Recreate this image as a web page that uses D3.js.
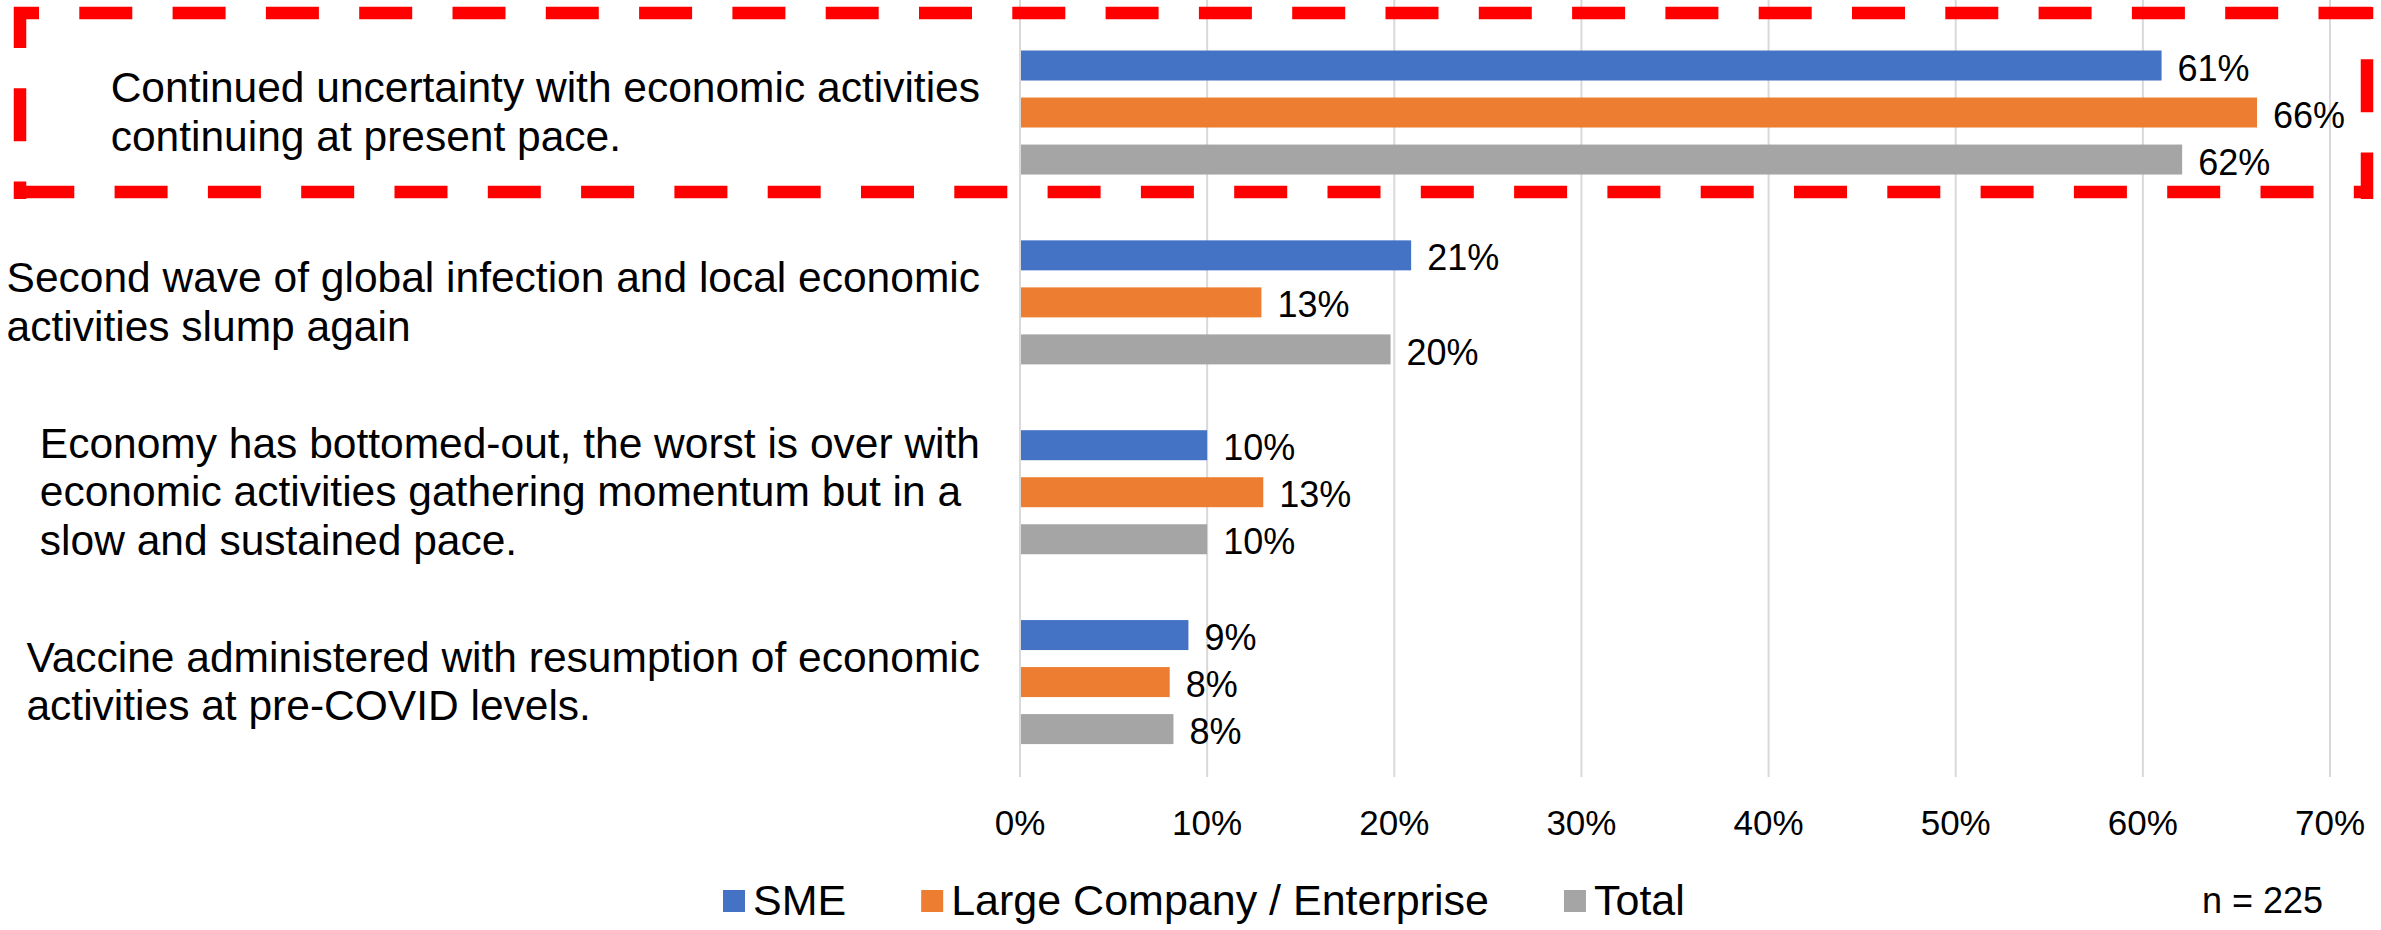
<!DOCTYPE html>
<head>
    <title>Economic outlook</title>
    <script src="https://d3js.org/d3.v7.min.js"></script>
</head>
<style>
body {
  margin: 0;
  background: #fff;
  font-family: "Liberation Sans", Arial, sans-serif;
}
</style>
<body>
    <svg></svg>
</body>

<script>

    // Data
    var categories = [
        "Continued uncertainty with economic activities\ncontinuing at present pace.",
        "Second wave of global infection and local economic\nactivities slump again",
        "Economy has bottomed-out, the worst is over with\neconomic activities gathering momentum but in a\nslow and sustained pace.",
        "Vaccine administered with resumption of economic\nactivities at pre-COVID levels."
    ];
    var seriesNames = ["SME", "Large Company / Enterprise", "Total"];
    var smeValues = [0.610, 0.209, 0.100, 0.090];
    var largeValues = [0.661, 0.129, 0.130, 0.080];
    var totalValues = [0.621, 0.198, 0.100, 0.082];
    var tickValues = [0, 0.1, 0.2, 0.3, 0.4, 0.5, 0.6, 0.7];
    var sampleNote = "n = 225";

    var colors = ["#4472C4", "#ED7D31", "#A5A5A5"];

    // Variables
    var width = 2381;
    var height = 930;
    var seriesValues = [smeValues, largeValues, totalValues];

    var svg = d3.select('svg')
        .attr('width', width)
        .attr('height', height);

    var x = d3.scaleLinear()
        .domain([0, 0.7])
        .range([1020, 2330]);

    var y0 = d3.scaleBand()
        .domain(d3.range(categories.length))
        .range([17.6, 777]);

    var y1 = d3.scaleBand()
        .domain(d3.range(seriesNames.length))
        .range([0, y0.bandwidth()])
        .paddingInner(0.362)
        .paddingOuter(0.7);

    // Gridlines
    svg.append('g')
        .selectAll('line')
        .data(tickValues)
        .enter().append('line')
        .attr('x1', function (d) { return x(d) })
        .attr('x2', function (d) { return x(d) })
        .attr('y1', 0)
        .attr('y2', 777)
        .attr('stroke', '#D9D9D9')
        .attr('stroke-width', 2);

    // Tick labels
    svg.append('g')
        .selectAll('text')
        .data(tickValues)
        .enter().append('text')
        .attr('x', function (d) { return x(d) })
        .attr('y', 835)
        .attr('text-anchor', 'middle')
        .style('font-size', '35px')
        .text(d3.format('.0%'));

    // Bars
    var rows = [];
    categories.forEach(function (c, i) {
        seriesValues.forEach(function (vals, s) {
            rows.push({ cat: i, series: s, value: vals[i] });
        });
    });

    svg.append('g')
        .selectAll('rect')
        .data(rows)
        .enter().append('rect')
        .attr('x', x(0) + 1)
        .attr('y', function (d) { return y0(d.cat) + y1(d.series) })
        .attr('width', function (d) { return x(d.value) - x(0) - 1 })
        .attr('height', y1.bandwidth())
        .attr('fill', function (d) { return colors[d.series] });

    // Value labels
    svg.append('g')
        .selectAll('text')
        .data(rows)
        .enter().append('text')
        .attr('x', function (d) { return x(d.value) + 16 })
        .attr('y', function (d) { return y0(d.cat) + y1(d.series) + y1.bandwidth() / 2 })
        .attr('dy', '0.42em')
        .style('font-size', '36px')
        .text(function (d) { return d3.format('.0%')(d.value) });

    // Category labels: lines left aligned, block right aligned to 980
    var catG = svg.append('g')
        .selectAll('g')
        .data(categories)
        .enter().append('g');

    catG.each(function (c, i) {
        var lines = c.split('\n');
        var g = d3.select(this);
        var center = y0(i) + y0.bandwidth() / 2;
        var texts = g.selectAll('text')
            .data(lines)
            .enter().append('text')
            .attr('y', function (d, k) { return center + (k - (lines.length - 1) / 2) * 48.5 + 14 })
            .style('font-size', '42.5px')
            .text(function (d) { return d });
        var maxW = d3.max(texts.nodes(), function (n) { return n.getComputedTextLength() });
        texts.attr('x', 980 - maxW);
    });

    // Legend
    var legend = svg.append('g');
    var lx = 723;
    seriesNames.forEach(function (name, s) {
        legend.append('rect')
            .attr('x', lx)
            .attr('y', 890)
            .attr('width', 22)
            .attr('height', 22)
            .attr('fill', colors[s]);
        var t = legend.append('text')
            .attr('x', lx + 30)
            .attr('y', 915)
            .style('font-size', '43px')
            .text(name);
        lx += 30 + t.node().getComputedTextLength() + 75;
    });

    svg.append('text')
        .attr('x', 2323)
        .attr('y', 913)
        .attr('text-anchor', 'end')
        .style('font-size', '36px')
        .text(sampleNote);

    // Red dashed highlight box, each side dashed on its own
    var box = svg.append('g')
        .attr('fill', 'none')
        .attr('stroke', '#FF0000')
        .attr('stroke-width', 12.5)
        .attr('stroke-dasharray', '53,40.3');

    box.append('line').attr('x1', 14).attr('x2', 2373).attr('y1', 13).attr('y2', 13)
        .attr('stroke-dashoffset', 28);
    box.append('line').attr('x1', 14).attr('x2', 2373).attr('y1', 192).attr('y2', 192)
        .attr('stroke-dashoffset', 86);
    box.append('line').attr('x1', 20).attr('x2', 20).attr('y1', 7).attr('y2', 199)
        .attr('stroke-dashoffset', 12);
    box.append('line').attr('x1', 2367).attr('x2', 2367).attr('y1', 7).attr('y2', 199)
        .attr('stroke-dashoffset', 41);

</script>
